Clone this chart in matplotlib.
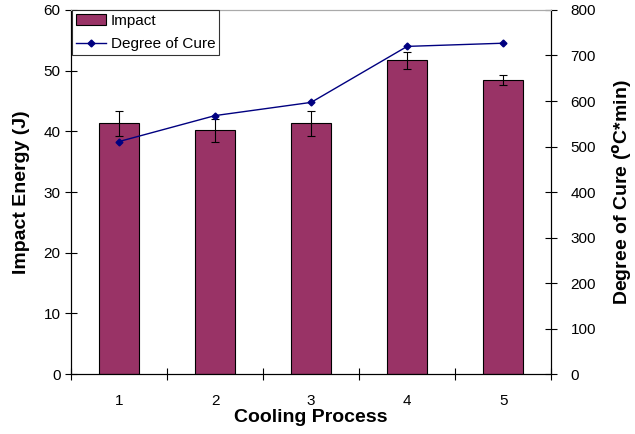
import matplotlib
matplotlib.use('Agg')
import matplotlib.pyplot as plt
import numpy as np

plt.rcParams['font.family'] = ['Liberation Sans', 'DejaVu Sans']

process = ['1', '2', '3', '4', '5']
impact = [41.3, 40.2, 41.3, 51.7, 48.5]
impact_err = [2.0, 1.9, 2.0, 1.4, 0.8]
cure = [511, 568, 597, 720, 727]

x = np.arange(1, len(process) + 1)

fig = plt.figure(figsize=(6.35, 4.34), dpi=100)
ax = fig.add_axes([0.112, 0.138, 0.756, 0.839])
ax2 = ax.twinx()

bars = ax.bar(x, impact, width=0.42, color='#993366', edgecolor='black', linewidth=0.8,
              label='Impact', zorder=2)
ax.errorbar(x, impact, yerr=impact_err, fmt='none', ecolor='black', elinewidth=0.8,
            capsize=3, capthick=0.8, zorder=3)
line, = ax2.plot(x, cure, color='#000080', marker='D', markersize=3.5, linewidth=1,
                 label='Degree of Cure')

ax.set_xlim(0.5, 5.5)
ax.set_ylim(0, 60)
ax2.set_ylim(0, 800)
ax.set_yticks(range(0, 61, 10))
ax2.set_yticks(range(0, 801, 100))
ax.set_xticks(x)
ax.set_xticklabels(process)
ax.set_xticks(np.arange(0.5, 5.6, 1), minor=True)
ax.tick_params(axis='x', which='major', length=0, pad=14, labelsize=11)
ax.tick_params(axis='x', which='minor', direction='inout', length=8, width=0.8)
ax.tick_params(axis='y', direction='inout', length=8, width=0.8, labelsize=11)
ax2.tick_params(axis='y', direction='inout', length=8, width=0.8, labelsize=11, pad=10)

for a in (ax, ax2):
    a.spines['top'].set_color('#aaaaaa')
    a.spines['left'].set_color('black')
    a.spines['right'].set_color('black')
    a.spines['bottom'].set_color('black')

ax.set_xlabel('Cooling Process', fontsize=14, fontweight='bold', labelpad=1)
ax.set_ylabel('Impact Energy (J)', fontsize=14, fontweight='bold', labelpad=10)
ax2.set_ylabel(r'Degree of Cure ($^{\mathbf{o}}$C*min)', fontsize=14, fontweight='bold',
               labelpad=10)

leg = ax2.legend([bars, line], ['Impact', 'Degree of Cure'], loc='upper left',
                 bbox_to_anchor=(0.002, 1.0), fontsize=11, frameon=True, fancybox=False,
                 borderpad=0.25, labelspacing=0.6, handlelength=2, handletextpad=0.3,
                 borderaxespad=0)
leg.get_frame().set_edgecolor('black')
leg.get_frame().set_linewidth(0.8)

fig.savefig('out.png', dpi=100)
